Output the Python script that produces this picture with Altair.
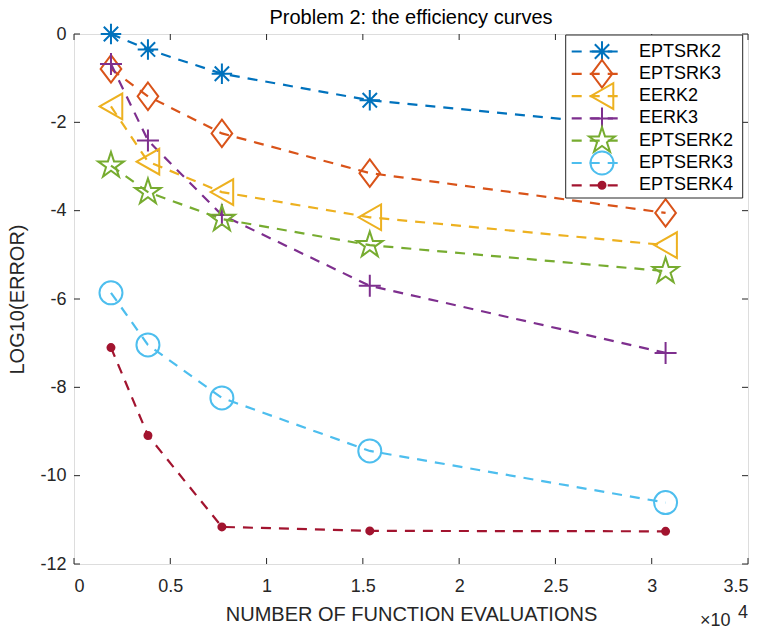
import altair as alt
import pandas as pd

# ---------------- data ----------------
series = ["EPTSRK2", "EPTSRK3", "EERK2", "EERK3", "EPTSERK2", "EPTSERK3", "EPTSERK4"]
evaluations = [1920, 3840, 7680, 15360, 30720]
eptsrk2 = [0.0, -0.35, -0.9, -1.5, -2.15]
eptsrk3 = [-0.79, -1.41, -2.25, -3.15, -4.05]
eerk2 = [-1.64, -2.89, -3.58, -4.15, -4.78]
eerk3 = [-0.68, -2.41, -4.1, -5.7, -7.22]
eptserk2 = [-2.98, -3.58, -4.19, -4.78, -5.37]
eptserk3 = [-5.86, -7.04, -8.24, -9.44, -10.61]
eptserk4 = [-7.1, -9.09, -11.16, -11.25, -11.26]

x_ticks = [0, 5000, 10000, 15000, 20000, 25000, 30000, 35000]
y_ticks = [0, -2, -4, -6, -8, -10, -12]

colors = ["#0072BD", "#D95319", "#EDB120", "#7E2F8E", "#77AC30", "#4DBEEE", "#A2142F"]
fills = ["transparent"] * 6 + ["#A2142F"]

asterisk = "M-1,0L1,0M0,-1L0,1M-0.7,-0.7L0.7,0.7M-0.7,0.7L0.7,-0.7"
diamond = "M0,-1L0.75,0L0,1L-0.75,0Z"
tri_left = "M-0.88,0L0.88,-1L0.88,1Z"
plus = "M-1,0L1,0M0,-1L0,1"
pentagram = ("M0,-1L0.2245,-0.309L0.951,-0.309L0.363,0.118L0.588,0.809L0,0.382"
             "L-0.588,0.809L-0.363,0.118L-0.951,-0.309L-0.2245,-0.309Z")
shapes = [asterisk, diamond, tri_left, plus, pentagram, "circle", "circle"]
sizes = [420, 760, 660, 484, 740, 529, 49]

values = [eptsrk2, eptsrk3, eerk2, eerk3, eptserk2, eptserk3, eptserk4]
rows = []
for name, vals in zip(series, values):
    for e, v in zip(evaluations, vals):
        rows.append({"series": name, "evals": e, "err": v})
df = pd.DataFrame(rows)
legend_df = pd.DataFrame({"series": series})

FONT = "Liberation Sans"
DARK = "#262626"
W, H = 674, 530

xscale = alt.Scale(domain=[0, 35000], nice=False, zero=False)
yscale = alt.Scale(domain=[-12, 0], nice=False, zero=False)
cscale = alt.Scale(domain=series, range=colors)
shscale = alt.Scale(domain=series, range=shapes)
szscale = alt.Scale(type="ordinal", domain=series, range=sizes)
fscale = alt.Scale(domain=series, range=fills)

x_axis = alt.Axis(values=x_ticks, ticks=False, domain=False, grid=False,
                  labelExpr="datum.value / 10000 + ''",
                  labelFontSize=18, labelFont=FONT, labelColor=DARK, labelPadding=13,
                  title="NUMBER OF FUNCTION EVALUATIONS", titleFont=FONT,
                  titleFontSize=20, titleFontWeight="normal", titleColor=DARK,
                  titlePadding=9)
y_axis = alt.Axis(values=y_ticks, ticks=False, domain=False, grid=False,
                  labelExpr="datum.value + ''",
                  labelFontSize=18, labelFont=FONT, labelColor=DARK, labelPadding=8,
                  title="LOG10(ERROR)", titleFont=FONT,
                  titleFontSize=20, titleFontWeight="normal", titleColor=DARK,
                  titlePadding=12)

lines = alt.Chart(df).mark_line(strokeDash=[10, 8], strokeWidth=2.2).encode(
    x=alt.X("evals:Q", scale=xscale, axis=x_axis),
    y=alt.Y("err:Q", scale=yscale, axis=y_axis),
    stroke=alt.Stroke("series:N", scale=cscale, legend=None),
    detail="series:N",
)
points = alt.Chart(df).mark_point(opacity=1, strokeWidth=2).encode(
    x=alt.X("evals:Q", scale=xscale),
    y=alt.Y("err:Q", scale=yscale),
    stroke=alt.Stroke("series:N", scale=cscale, legend=None),
    fill=alt.Fill("series:N", scale=fscale, legend=None),
    shape=alt.Shape("series:N", scale=shscale, legend=None),
    size=alt.Size("series:N", scale=szscale, legend=None),
)

xt = pd.DataFrame({"evals": x_ticks})
yt = pd.DataFrame({"err": y_ticks})
tick_style = dict(color=DARK, strokeWidth=1)
xb = alt.Chart(xt).mark_rule(**tick_style).encode(
    x=alt.X("evals:Q", scale=xscale), y=alt.value(H), y2=alt.value(H - 6))
xtop = alt.Chart(xt).mark_rule(**tick_style).encode(
    x=alt.X("evals:Q", scale=xscale), y=alt.value(0), y2=alt.value(6))
yl = alt.Chart(yt).mark_rule(**tick_style).encode(
    y=alt.Y("err:Q", scale=yscale), x=alt.value(0), x2=alt.value(6))
yr = alt.Chart(yt).mark_rule(**tick_style).encode(
    y=alt.Y("err:Q", scale=yscale), x=alt.value(W), x2=alt.value(W - 6))

main = alt.layer(lines, points, xb, xtop, yl, yr)

# ---------------- legend ----------------
ly = alt.Y("series:N",
           scale=alt.Scale(type="point", domain=series, range=[17.5, 151.3], padding=0),
           axis=None)
box = alt.Chart(pd.DataFrame({"a": [0]})).mark_rect(
    fill="white", stroke=DARK, strokeWidth=1).encode(
    x=alt.value(491.7), x2=alt.value(668.7), y=alt.value(1), y2=alt.value(164))
leg_line = alt.Chart(legend_df).mark_rule(strokeDash=[10, 8], strokeWidth=2.2).encode(
    x=alt.value(497.7), x2=alt.value(551), y=ly,
    stroke=alt.Stroke("series:N", scale=cscale, legend=None))
leg_pt = alt.Chart(legend_df).mark_point(opacity=1, strokeWidth=2).encode(
    x=alt.value(528), y=ly,
    stroke=alt.Stroke("series:N", scale=cscale, legend=None),
    fill=alt.Fill("series:N", scale=fscale, legend=None),
    shape=alt.Shape("series:N", scale=shscale, legend=None),
    size=alt.Size("series:N", scale=szscale, legend=None))
leg_txt = alt.Chart(legend_df).mark_text(
    align="left", baseline="middle", font=FONT, fontSize=18, color="black").encode(
    x=alt.value(565), y=ly, text="series:N")
legend = alt.layer(box, leg_line, leg_pt, leg_txt)

# ---------------- x10^4 ----------------
one = pd.DataFrame({"a": [0]})
exp_base = alt.Chart(one).mark_text(
    align="left", baseline="alphabetic", font=FONT, fontSize=18, color=DARK).encode(
    x=alt.value(626), y=alt.value(592), text=alt.value("×10"))
exp_sup = alt.Chart(one).mark_text(
    align="left", baseline="alphabetic", font=FONT, fontSize=18, color=DARK).encode(
    x=alt.value(664), y=alt.value(584), text=alt.value("4"))

chart = alt.layer(main, legend, exp_base, exp_sup).resolve_scale(
    y="independent"
).properties(
    width=W, height=H,
    title=alt.TitleParams("Problem 2: the efficiency curves", font=FONT, fontSize=20,
                          fontWeight="normal", color="black", offset=4, dy=12,
                          anchor="middle"),
    autosize=alt.AutoSizeParams(type="none"),
    padding={"left": 74, "top": 34, "right": 15, "bottom": 65},
).configure_view(stroke=DARK, strokeWidth=1).configure(background="white")

chart.save("out.html", embed_options={"renderer": "svg", "actions": False})
